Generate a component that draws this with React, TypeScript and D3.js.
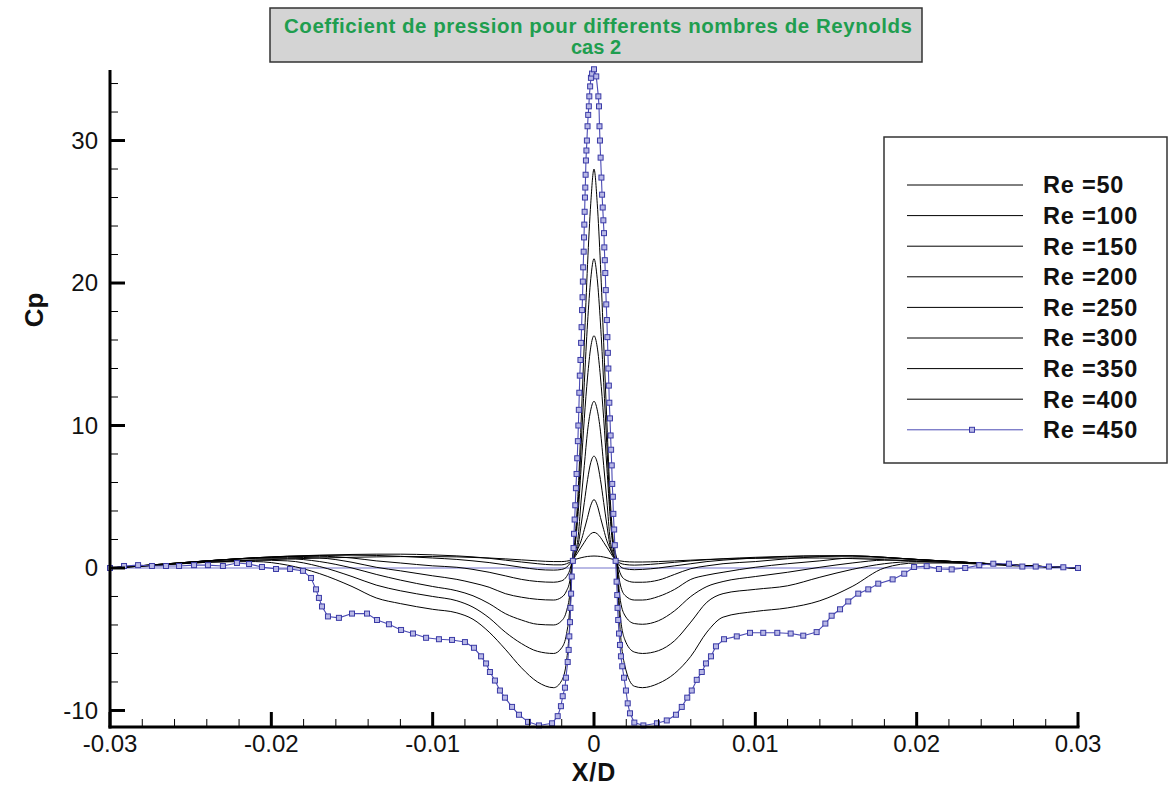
import React from "react";
import * as d3 from "d3";

// ---------- data ----------
const xGrid = [
  -0.03, -0.027, -0.024, -0.021, -0.019, -0.017, -0.015, -0.0135, -0.012, -0.01,
  -0.0085, -0.0075, -0.0065, -0.0055, -0.0045, -0.0035, -0.0025, -0.002, -0.0017, -0.0015,
  -0.00135, -0.0012, -0.001, -0.0008, -0.0006, -0.0004, -0.0002, 0, 0.0002, 0.0004,
  0.0006, 0.0008, 0.001, 0.0012, 0.0014, 0.0016, 0.0019, 0.0025, 0.003, 0.004,
  0.005, 0.006, 0.007, 0.008, 0.01, 0.012, 0.014, 0.016, 0.018, 0.02,
  0.023, 0.026, 0.03,
];

const re50 = [
  0, 0.2, 0.4, 0.55, 0.63, 0.7, 0.75, 0.78, 0.8, 0.8, 0.78, 0.74, 0.7, 0.64, 0.57, 0.5, 0.45, 0.45, 0.48, 0.52, 0.55,
  0.6, 0.66, 0.72, 0.77, 0.81, 0.83, 0.84, 0.83, 0.81, 0.77, 0.72, 0.66, 0.6,
  0.55, 0.5, 0.45, 0.42, 0.42, 0.45, 0.5, 0.55, 0.6, 0.63, 0.68, 0.7, 0.7, 0.66, 0.58, 0.48, 0.32, 0.15, 0,
];
const re100 = [
  0, 0.25, 0.5, 0.72, 0.83, 0.9, 0.95, 0.97, 0.97, 0.92, 0.85, 0.78, 0.68, 0.55, 0.42, 0.3, 0.22, 0.22, 0.3, 0.4, 0.5,
  0.75, 1.1, 1.45, 1.8, 2.15, 2.4, 2.5, 2.4, 2.15, 1.8, 1.45, 1.1, 0.75,
  0.5, 0.35, 0.25, 0.2, 0.22, 0.3, 0.4, 0.5, 0.58, 0.65, 0.75, 0.82, 0.85, 0.85, 0.75, 0.6, 0.4, 0.2, 0,
];
const re150 = [
  0, 0.25, 0.5, 0.72, 0.82, 0.88, 0.9, 0.88, 0.82, 0.7, 0.6, 0.5, 0.38, 0.22, 0.05, -0.1, -0.15, -0.1, 0.05, 0.3, 0.5,
  0.85, 1.35, 1.9, 2.7, 3.55, 4.4, 4.8, 4.4, 3.55, 2.7, 1.9, 1.35, 0.85,
  0.5, 0.15, -0.05, -0.12, -0.1, 0.0, 0.15, 0.3, 0.45, 0.55, 0.7, 0.8, 0.85, 0.85, 0.75, 0.6, 0.4, 0.2, 0,
];
const re200 = [
  0, 0.25, 0.5, 0.72, 0.8, 0.82, 0.7, 0.5, 0.35, 0.15, 0.05, -0.1, -0.3, -0.55, -0.8, -0.95, -1.0, -0.9, -0.6, -0.15, 0.5,
  0.9, 1.5, 3.0, 4.6, 6.2, 7.4, 7.85, 7.4, 6.2, 4.6, 3.0, 1.5, 0.9,
  0.5, -0.3, -0.8, -1.0, -1.0, -0.85, -0.45, -0.05, 0.15, 0.3, 0.45, 0.65, 0.8, 0.85, 0.75, 0.6, 0.4, 0.2, 0,
];
const re250 = [
  0, 0.25, 0.5, 0.7, 0.75, 0.7, 0.4, 0.05, -0.2, -0.55, -0.8, -1.05, -1.35, -1.8, -2.05, -2.2, -2.25, -2.05, -1.6, -0.9, 0.5,
  1.0, 2.0, 4.7, 7.2, 9.6, 11.1, 11.7, 11.1, 9.6, 7.2, 4.7, 2.0, 1.0,
  0.5, -1.0, -1.9, -2.25, -2.25, -2.0, -1.5, -0.8, -0.5, -0.3, 0.05, 0.3, 0.5, 0.7, 0.7, 0.6, 0.4, 0.2, 0,
];
const re300 = [
  0, 0.22, 0.5, 0.65, 0.65, 0.45, 0.0, -0.45, -0.85, -1.3, -1.6, -1.95, -2.5, -3.2, -3.65, -3.95, -4.0, -3.7, -3.0, -1.8, 0.5,
  1.3, 3.6, 7.0, 10.5, 13.4, 15.5, 16.3, 15.5, 13.4, 10.5, 7.0, 3.6, 1.3,
  0.5, -2.0, -3.3, -3.9, -3.95, -3.7, -3.0, -2.0, -1.3, -0.95, -0.6, -0.3, 0.05, 0.35, 0.55, 0.55, 0.4, 0.2, 0,
];
const re350 = [
  0, 0.2, 0.45, 0.55, 0.5, 0.1, -0.6, -1.2, -1.6, -2.0, -2.3, -2.75, -3.5, -4.5, -5.3, -5.85, -6.0, -5.6, -4.6, -2.8, 0.5,
  1.5, 4.2, 8.5, 13.0, 17.2, 20.3, 21.7, 20.3, 17.2, 13.0, 8.5, 4.2, 1.5,
  0.5, -3.0, -5.0, -5.9, -6.0, -5.8, -5.1, -3.8, -2.4, -1.8, -1.5, -1.25, -0.65, -0.1, 0.3, 0.45, 0.4, 0.2, 0,
];
const re400 = [
  0, 0.2, 0.4, 0.45, 0.2, -0.4, -1.3, -2.1, -2.5, -2.9, -3.15, -3.6, -4.5, -5.7, -7.0, -8.0, -8.4, -7.9, -6.5, -3.8, 0.5,
  1.8, 5.0, 10.2, 15.8, 21.3, 25.6, 28.0, 25.6, 21.3, 15.8, 10.2, 5.0, 1.8,
  0.5, -4.0, -6.8, -8.3, -8.4, -8.1, -7.4, -6.2, -4.5, -3.45, -3.05, -2.8, -2.3, -1.3, 0.0, 0.35, 0.35, 0.2, 0,
];

const blackSeries = [re50, re100, re150, re200, re250, re300, re350, re400];
const legendLabels = [
  "Re =50", "Re =100", "Re =150", "Re =200", "Re =250", "Re =300", "Re =350", "Re =400", "Re =450",
];

const blueX = [
  -0.03, -0.02913, -0.02826, -0.0274, -0.02653, -0.02572, -0.02479, -0.02393, -0.023, -0.02213,
  -0.02138, -0.02058, -0.01971, -0.01884, -0.01804, -0.01754, -0.01723, -0.01705, -0.01686, -0.01649,
  -0.01581, -0.015, -0.01407, -0.01345, -0.01271, -0.01196, -0.01122, -0.01041, -0.00961, -0.0088,
  -0.008, -0.00744, -0.007, -0.00669, -0.00645, -0.00614, -0.00583, -0.00552, -0.00508, -0.00465,
  -0.00409, -0.00341, -0.0026, -0.00225, -0.00205, -0.00194, -0.0018, -0.00174, -0.00163, -0.00157,
  -0.00153, -0.00149, -0.00146, -0.00142, -0.00138, -0.00131, -0.00127, -0.00124, -0.0012, -0.00116,
  -0.00112, -0.00108, -0.00104, -0.001, -0.00097, -0.00094, -0.00091, -0.00088, -0.00084, -0.0008,
  -0.00077, -0.00074, -0.00071, -0.00069, -0.00067, -0.00064, -0.00062, -0.0006, -0.00058, -0.00056,
  -0.00054, -0.00052, -0.0005, -0.00047, -0.00044, -0.0004, -0.00036, -0.00032, -0.00029, -0.00024,
  -0.00019, -0.00012, 0, 0.00014, 0.00027, 0.00031, 0.00034, 0.00037, 0.00041, 0.00046,
  0.0005, 0.00054, 0.00058, 0.00062, 0.00064, 0.00067, 0.0007, 0.00073, 0.00076, 0.0008,
  0.00083, 0.00086, 0.00089, 0.00092, 0.00095, 0.00099, 0.00103, 0.00106, 0.0011, 0.00113,
  0.00117, 0.0012, 0.00125, 0.00129, 0.00134, 0.0014, 0.00144, 0.00146, 0.0015, 0.00155,
  0.00161, 0.00167, 0.00175, 0.00186, 0.00198, 0.00209, 0.00223, 0.0025, 0.00306, 0.0039,
  0.00451, 0.00508, 0.00544, 0.00578, 0.00606, 0.00637, 0.00668, 0.00694, 0.00725, 0.00756,
  0.00806, 0.00885, 0.00967, 0.01049, 0.01136, 0.01219, 0.01297, 0.0138, 0.01434, 0.01473,
  0.01525, 0.01576, 0.01638, 0.017, 0.01762, 0.01851, 0.01923, 0.01984, 0.02062, 0.02138,
  0.02217, 0.02301, 0.02388, 0.02475, 0.02572, 0.02655, 0.02738, 0.0282, 0.02909, 0.03,
];
const blueY = [
  0, 0.14, 0.2, 0.14, 0.14, 0.14, 0.2, 0.2, 0.14, 0.35,
  0.28, 0.07, -0.07, -0.07, -0.2, -0.7, -1.5, -2.1, -2.7, -3.4,
  -3.5, -3.2, -3.2, -3.65, -3.95, -4.35, -4.6, -4.9, -5.0, -5.05,
  -5.2, -5.6, -6.2, -6.7, -7.3, -7.9, -8.6, -9.1, -9.75, -10.3,
  -10.8, -11.05, -10.9, -10.4, -9.7, -9.0, -8.4, -7.7, -6.6, -5.75,
  -4.8, -3.8, -2.8, -1.8, -0.6, 0.5, 1.4, 2.4, 3.4, 4.4,
  5.6, 6.6, 7.7, 8.9, 10.0, 11.1, 12.3, 13.5, 14.6, 15.8,
  16.9, 18.1, 19.0, 20.1, 21.1, 22.2, 23.2, 24.1, 25.0, 26.0,
  26.7, 27.6, 28.6, 29.3, 30.0, 31.0, 31.8, 32.4, 33.1, 33.8,
  34.4, 34.7, 35.0, 34.5, 33.1, 32.4, 31.0, 30.0, 28.8, 27.4,
  26.2, 25.3, 24.4, 23.5, 22.5, 21.6, 20.7, 19.5, 18.5, 17.4,
  16.2, 15.1, 14.0, 12.8, 11.6, 10.5, 9.3, 8.3, 7.2, 5.9,
  5.0, 3.8, 2.7, 1.6, 0.5, -0.96, -1.9, -2.8, -3.65, -4.6,
  -5.4, -6.2, -6.9, -7.7, -8.6, -9.5, -10.2, -10.85, -11.05, -10.9,
  -10.7, -10.3, -9.75, -9.1, -8.6, -7.85, -7.3, -6.7, -6.2, -5.5,
  -5.0, -4.8, -4.55, -4.55, -4.55, -4.6, -4.75, -4.5, -3.9, -3.35,
  -2.9, -2.35, -1.8, -1.5, -1.1, -0.8, -0.4, 0.07, 0.13, -0.07,
  -0.1, 0.0, 0.2, 0.3, 0.3, 0.1, 0.1, 0.1, 0.05, 0,
];

const zeroLineX = [-0.03, 0.03];
const zeroLineY = [0, 0];

const xMajorTicks = [-0.03, -0.02, -0.01, 0, 0.01, 0.02, 0.03];
const xTickLabels = ["-0.03", "-0.02", "-0.01", "0", "0.01", "0.02", "0.03"];
const yMajorTicks = [-10, 0, 10, 20, 30];
const yTickLabels = ["-10", "0", "10", "20", "30"];
const yMinorTicks = [-8, -6, -4, -2, 2, 4, 6, 8, 12, 14, 16, 18, 22, 24, 26, 28, 32, 34];
const xMinorTicks = [
  -0.028, -0.026, -0.024, -0.022, -0.018, -0.016, -0.014, -0.012, -0.008, -0.006, -0.004, -0.002,
  0.002, 0.004, 0.006, 0.008, 0.012, 0.014, 0.016, 0.018, 0.022, 0.024, 0.026, 0.028,
];

const titleLines = ["Coefficient de pression pour differents nombres de Reynolds", "cas 2"];
const xAxisTitle = "X/D";
const yAxisTitle = "Cp";

// ---------- layout ----------
const W = 1171;
const H = 787;
const PLOT = { left: 110, right: 1078, top: 70, bottom: 727 };
const FONT = "'Liberation Sans', Arial, Helvetica, sans-serif";
const BLUE = "#4b4bb4";

export default function App() {
  const x = d3.scaleLinear().domain([-0.03, 0.03]).range([PLOT.left, PLOT.right]);
  const y = d3.scaleLinear().domain([-11.16, 34.95]).range([PLOT.bottom, PLOT.top]);

  const smooth = d3
    .line<[number, number]>()
    .x((d) => x(d[0]))
    .y((d) => y(d[1]))
    .curve(d3.curveMonotoneX);
  const straight = d3
    .line<[number, number]>()
    .x((d) => x(d[0]))
    .y((d) => y(d[1]));

  const bluePts: [number, number][] = blueX.map((v, i) => [v, blueY[i]]);
  const zeroPts: [number, number][] = zeroLineX.map((v, i) => [v, zeroLineY[i]]);

  const legend = { x: 884, y: 137, w: 283, h: 326, lx1: 907, lx2: 1023, tx: 1043, row0: 185, dy: 30.6 };

  return (
    <svg
      width={W}
      height={H}
      viewBox={`0 0 ${W} ${H}`}
      style={{ position: "absolute", left: 0, top: 0, background: "#fff", display: "block" }}
      fontFamily={FONT}
    >
      <rect x={0} y={0} width={W} height={H} fill="#fff" />

      {/* title */}
      <rect x={270} y={8} width={652} height={54} fill="#d4d4d4" stroke="#333" strokeWidth={1.5} />
      <text
        x={598}
        y={33}
        textAnchor="middle"
        fontSize={20.5}
        fontWeight="bold"
        fill="#1f9e4f"
        textLength={628}
        lengthAdjust="spacing"
      >
        {titleLines[0]}
      </text>
      <text x={596} y={54} textAnchor="middle" fontSize={20} fontWeight="bold" fill="#1f9e4f">
        {titleLines[1]}
      </text>

      {/* zero reference line */}
      <path d={straight(zeroPts) || ""} fill="none" stroke="#7474cc" strokeWidth={1.2} />

      {/* black series */}
      {blackSeries.map((s, i) => {
        const pts: [number, number][] = xGrid.map((v, j) => [v, s[j]]);
        return <path key={i} d={smooth(pts) || ""} fill="none" stroke="#000" strokeWidth={1} />;
      })}

      {/* blue series */}
      <path d={straight(bluePts) || ""} fill="none" stroke={BLUE} strokeWidth={1.1} />
      {bluePts.map((p, i) => (
        <rect
          key={i}
          x={x(p[0]) - 2.5}
          y={y(p[1]) - 2.5}
          width={5}
          height={5}
          fill="#b8b8e6"
          stroke="#3a3aa6"
          strokeWidth={1}
        />
      ))}

      {/* axes */}
      <line x1={PLOT.left} x2={PLOT.left} y1={PLOT.top} y2={PLOT.bottom + 1.5} stroke="#000" strokeWidth={3} />
      <line x1={PLOT.left - 1.5} x2={PLOT.right + 1.5} y1={PLOT.bottom} y2={PLOT.bottom} stroke="#000" strokeWidth={3} />

      {yMajorTicks.map((t, i) => (
        <g key={"ym" + i}>
          <line x1={PLOT.left} x2={PLOT.left + 15} y1={y(t)} y2={y(t)} stroke="#000" strokeWidth={3} />
          <text x={98} y={y(t)} dy="0.35em" textAnchor="end" fontSize={24} fill="#111">
            {yTickLabels[i]}
          </text>
        </g>
      ))}
      {yMinorTicks.map((t, i) => (
        <line key={"yn" + i} x1={PLOT.left} x2={PLOT.left + 8} y1={y(t)} y2={y(t)} stroke="#000" strokeWidth={1} />
      ))}
      {xMajorTicks.map((t, i) => (
        <g key={"xm" + i}>
          <line x1={x(t)} x2={x(t)} y1={PLOT.bottom} y2={PLOT.bottom - 15} stroke="#000" strokeWidth={3} />
          <text x={x(t)} y={752} textAnchor="middle" fontSize={24} fill="#111">
            {xTickLabels[i]}
          </text>
        </g>
      ))}
      {xMinorTicks.map((t, i) => (
        <line key={"xn" + i} x1={x(t)} x2={x(t)} y1={PLOT.bottom} y2={PLOT.bottom - 8} stroke="#000" strokeWidth={1} />
      ))}

      <text x={594} y={781} textAnchor="middle" fontSize={25} fontWeight="bold" fill="#111" letterSpacing={1}>
        {xAxisTitle}
      </text>
      <text
        transform={`translate(43,310) rotate(-90)`}
        textAnchor="middle"
        fontSize={26}
        fontWeight="bold"
        fill="#111"
      >
        {yAxisTitle}
      </text>

      {/* legend */}
      <rect x={legend.x} y={legend.y} width={legend.w} height={legend.h} fill="#fff" stroke="#333" strokeWidth={1.5} />
      {legendLabels.map((lab, i) => {
        const ly = legend.row0 + i * legend.dy;
        const isBlue = i === legendLabels.length - 1;
        return (
          <g key={"lg" + i}>
            <line
              x1={legend.lx1}
              x2={legend.lx2}
              y1={ly}
              y2={ly}
              stroke={isBlue ? BLUE : "#000"}
              strokeWidth={1}
            />
            {isBlue && (
              <rect
                x={(legend.lx1 + legend.lx2) / 2 - 2.5 + 7}
                y={ly - 2.5}
                width={5}
                height={5}
                fill="#b8b8e6"
                stroke="#3a3aa6"
                strokeWidth={1}
              />
            )}
            <text x={legend.tx} y={ly} dy="0.36em" fontSize={23.5} fontWeight="bold" fill="#111" letterSpacing={0.8}>
              {lab}
            </text>
          </g>
        );
      })}
    </svg>
  );
}
